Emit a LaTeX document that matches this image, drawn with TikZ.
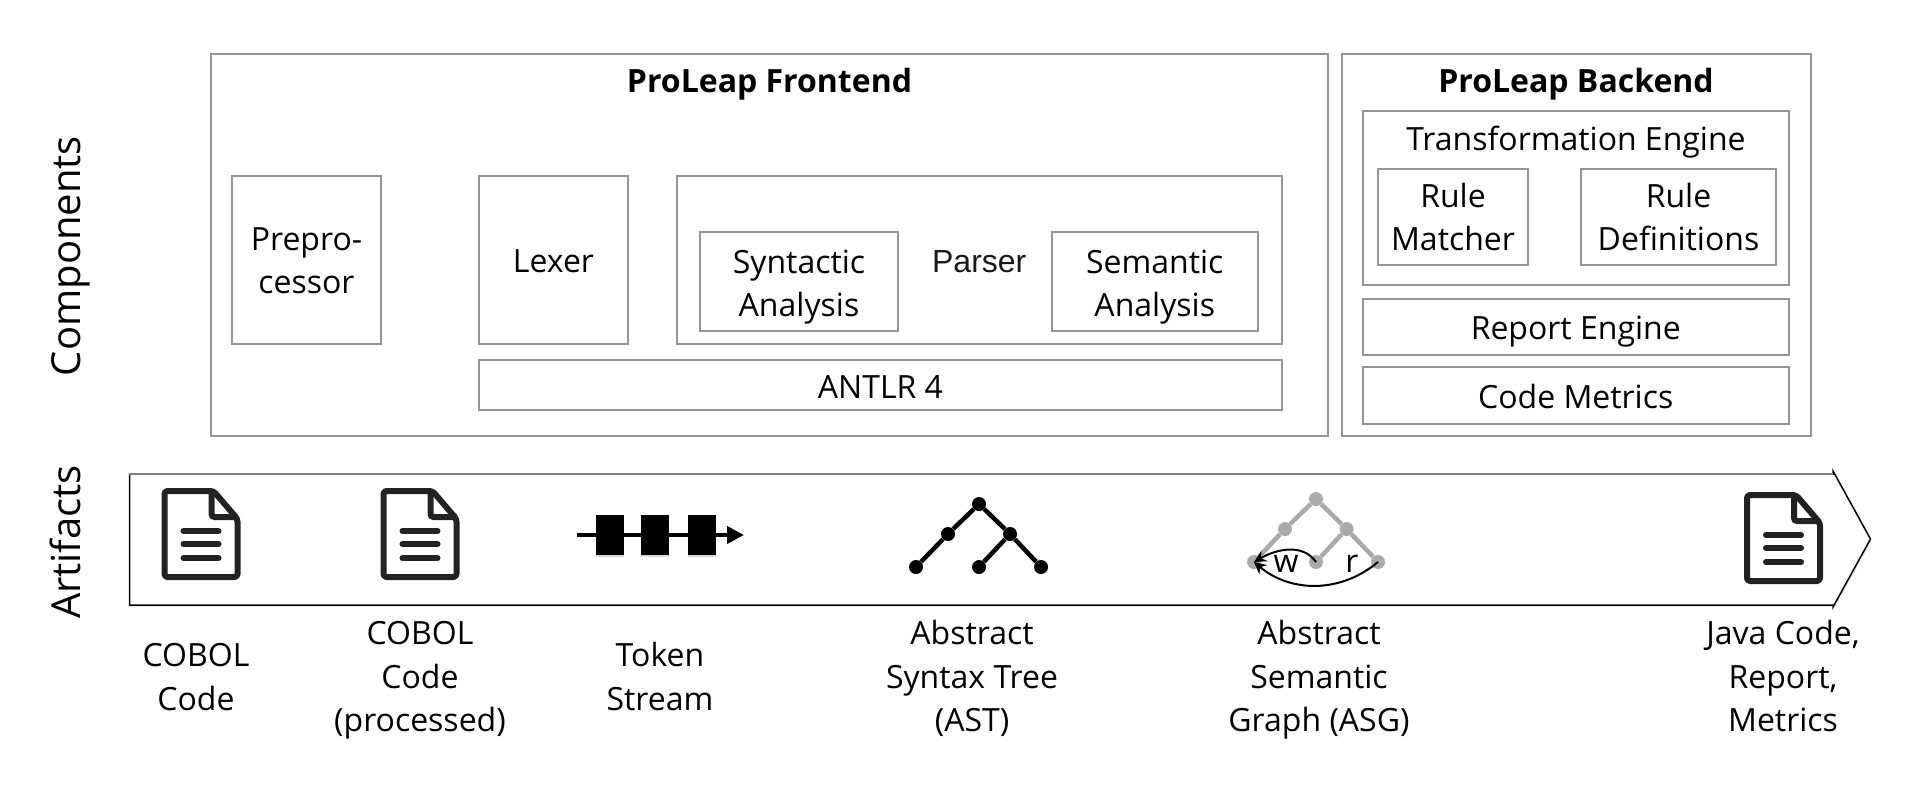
\documentclass[tikz,border=0pt]{standalone}
\usepackage{fontspec}
\setmainfont{Open Sans}
\newfontfamily\parserfont{Liberation Sans}
\usetikzlibrary{arrows.meta,shadows}
\newcommand*\boxfont{\fontsize{32}{43.5}\selectfont}
\newcommand*\titlefont{\fontsize{32}{43.5}\selectfont\bfseries}
\newcommand*\sidefont{\fontsize{40}{46}\selectfont}
\definecolor{boxgray}{HTML}{959595}
\definecolor{docblack}{HTML}{222222}
\definecolor{nodegray}{HTML}{AAAAAA}
\tikzset{
    struts/.style    = {execute at begin node={\rule[-8pt]{0pt}{#1}},
                        execute at end node={\rule[-8pt]{0pt}{8pt}}},
    twolines/.style  = {struts=86pt},
    threelines/.style= {struts=129pt},
    block/.style     = {draw=boxgray,line width=2pt,inner sep=0pt,outer sep=0pt,
                        align=center,font=\boxfont,anchor=north west,struts=41pt},
    blocktext/.style = {inner sep=0pt,align=center,font=\boxfont},
    titletext/.style = {inner sep=0pt,font=\titlefont,struts=38pt},
    smalltext/.style = {inner sep=0pt,font=\boxfont,struts=38pt},
    sidetext/.style  = {inner sep=0pt,font=\sidefont,rotate=90,anchor=base},
    tokenbox/.style  = {fill=black,inner sep=0pt,outer sep=0pt,
                        minimum width=28.5pt,minimum height=40pt,
                        drop shadow={shadow xshift=0pt,shadow yshift=-2pt,opacity=.3}},
    treedot/.style   = {circle,fill=black,inner sep=0pt,minimum size=14pt},
    graphdot/.style  = {circle,fill=nodegray,inner sep=0pt,minimum size=14pt},
    treeline/.style  = {line width=4.5pt,black},
    graphline/.style = {line width=4.5pt,nodegray},
    refline/.style   = {line width=2pt,black,-{Stealth[length=12pt,width=12pt]}},
    docicon/.pic = {
        \draw[docblack,line width=6pt,line join=round,rounded corners=3pt]
            (3,3) -- (52,3) -- (76,31) -- (76,89) -- (3,89) -- cycle;
        \draw[docblack,line width=6pt,rounded corners=3pt]
            (50,3) -- (50,29) -- (76,29);
        \foreach \y in {43,56,70} {
            \draw[docblack,line width=6pt,line cap=round] (22,\y) -- (57,\y);
        }
    },
}
\begin{document}
\begin{tikzpicture}[x=1pt,y=-1pt]
    \useasboundingbox (0,0) rectangle (1920,790);

    % Side captions
    \node[sidetext] (components) at (80,256) {Components};
    \node[sidetext] (artifacts) at (80,542) {Artifacts};

    % Frontend
    \node[block,minimum width=1117pt,minimum height=382pt] (frontend) at (211,53.5) {};
    \node[titletext] (frontendtitle) at (769.5,81) {ProLeap Frontend};
    \node[block,struts=83pt,minimum width=149pt,minimum height=168pt] (prepro) at (232,176) {Prepro-\\cessor};
    \node[block,minimum width=149pt,minimum height=168pt] (lexer) at (479,176) {Lexer};
    \node[block,struts=36pt,minimum width=604.5pt,minimum height=168pt,font=\boxfont\parserfont,text=black!90] (parser) at (677,176) {Parser};
    \node[block,twolines,minimum width=198pt,minimum height=99pt] (syntactic) at (700,232) {Syntactic\\Analysis};
    \node[block,twolines,minimum width=205.5pt,minimum height=99pt] (semantic) at (1052,232) {Semantic\\Analysis};
    \node[block,struts=43pt,minimum width=803pt,minimum height=50pt] (antlr) at (479,360) {ANTLR 4};

    % Backend
    \node[block,minimum width=469pt,minimum height=382pt] (backend) at (1342,53.5) {};
    \node[titletext] (backendtitle) at (1576,81) {ProLeap Backend};
    \node[block,minimum width=425.5pt,minimum height=174pt] (transform) at (1363,111) {};
    \node[smalltext] (transformtitle) at (1576,139) {Transformation Engine};
    \node[block,struts=83pt,minimum width=150pt,minimum height=96pt] (matcher) at (1378,169) {Rule\\Matcher};
    \node[block,struts=83pt,minimum width=195pt,minimum height=96pt] (definitions) at (1581,169) {Rule\\Definitions};
    \node[block,minimum width=425.5pt,minimum height=56pt] (report) at (1363,299) {Report Engine};
    \node[block,minimum width=425.5pt,minimum height=57pt] (metrics) at (1363,367) {Code Metrics};

    % Artifact arrow
    \draw[line width=1.5pt,black,fill=white,line join=miter,
          drop shadow={shadow xshift=1pt,shadow yshift=-2pt,opacity=.2}]
        (1833,474) -- (1833,471) -- (1870.5,539) -- (1833,607) -- (1833,605)
        -- (129.5,605) -- (129.5,474) -- cycle;
    \draw[line width=2.5pt,gray] (129,474) -- (1833,474);

    % Documents
    \pic (docone) at (161.5,488) {docicon};
    \pic (doctwo) at (380.5,488) {docicon};
    \pic (docthree) at (1744,492) {docicon};

    % Token stream
    \coordinate (tokenstart) at (577,535);
    \coordinate (tokenend) at (744,535);
    \draw[line width=4pt,-{Triangle[length=17pt,width=17pt]}] (tokenstart) -- (tokenend);
    \foreach \x [count=\i from 1] in {610,655,702} {
        \node[tokenbox] (token\i) at (\x,535) {};
    }

    % Syntax tree
    \node[treedot] (t0) at (979,504) {};
    \node[treedot] (t1) at (948,534) {};
    \node[treedot] (t2) at (1010,534) {};
    \node[treedot] (t3) at (916,567) {};
    \node[treedot] (t4) at (979,567) {};
    \node[treedot] (t5) at (1041,567) {};
    \draw[treeline] (t3) -- (t1) -- (t0) -- (t2) -- (t5) (t4) -- (t2);

    % Semantic graph
    \node[graphdot] (g0) at (1316,499) {};
    \node[graphdot] (g1) at (1285,529) {};
    \node[graphdot] (g2) at (1346.5,529) {};
    \node[graphdot] (g3) at (1254,562) {};
    \node[graphdot] (g4) at (1316,562) {};
    \node[graphdot] (g5) at (1378,562) {};
    \draw[graphline] (g3) -- (g1) -- (g0) -- (g2) -- (g5) (g4) -- (g2);
    \draw[refline] (g4.center) to[out=125,in=30] (g3.center);
    \draw[refline] (g5.center) to[out=220,in=-40] (g3.center);
    \node[smalltext] (wlabel) at (1286,561) {w};
    \node[smalltext] (rlabel) at (1352,561) {r};

    % Artifact captions
    \node[blocktext,twolines] (cobol) at (196,675) {COBOL\\Code};
    \node[blocktext,threelines] (processed) at (420,675) {COBOL\\Code\\(processed)};
    \node[blocktext,twolines] (tokens) at (660,675) {Token\\Stream};
    \node[blocktext,threelines] (ast) at (972,675) {Abstract\\Syntax Tree\\(AST)};
    \node[blocktext,threelines] (asg) at (1319,675) {Abstract\\Semantic\\Graph (ASG)};
    \node[blocktext,threelines] (java) at (1783,675) {Java Code,\\Report,\\Metrics};
\end{tikzpicture}
\end{document}
